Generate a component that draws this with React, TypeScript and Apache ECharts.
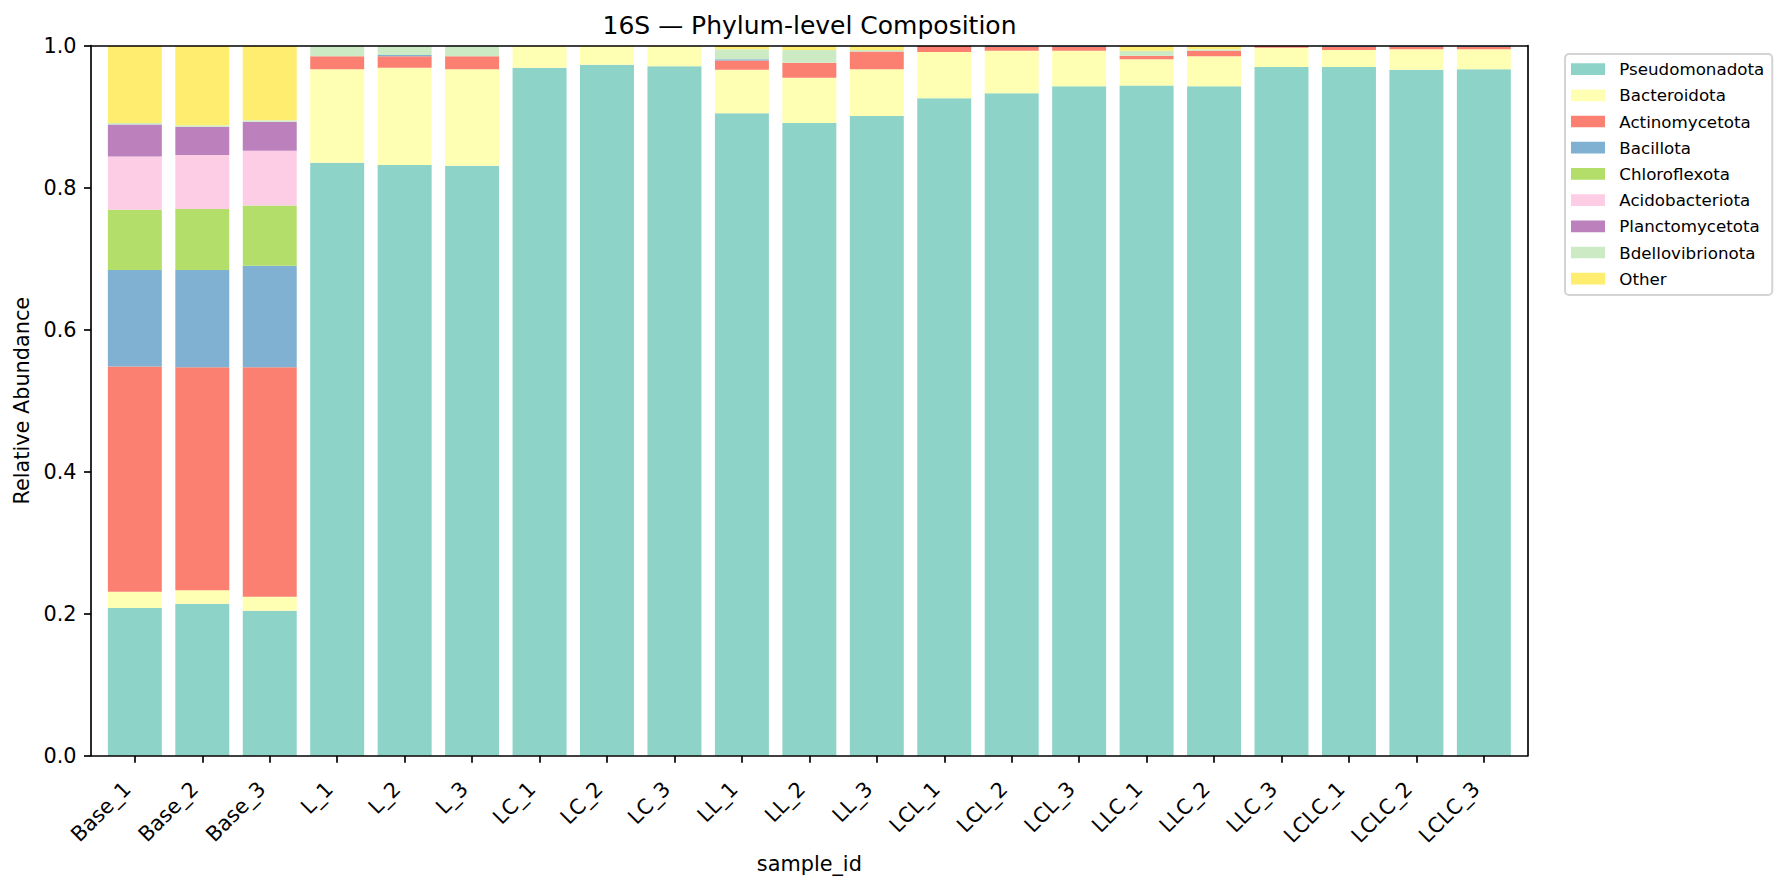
import React, { useEffect, useRef } from "react";
import * as echarts from "echarts";

const categories = [
  "Base_1", "Base_2", "Base_3", "L_1", "L_2", "L_3", "LC_1", "LC_2", "LC_3",
  "LL_1", "LL_2", "LL_3", "LCL_1", "LCL_2", "LCL_3", "LLC_1", "LLC_2", "LLC_3",
  "LCLC_1", "LCLC_2", "LCLC_3",
];

const phyla = [
  "Pseudomonadota", "Bacteroidota", "Actinomycetota", "Bacillota", "Chloroflexota",
  "Acidobacteriota", "Planctomycetota", "Bdellovibrionota", "Other",
];

const colors = [
  "#8dd3c7", "#ffffb3", "#fb8072", "#80b1d3", "#b3de69",
  "#fccde5", "#bc80bd", "#ccebc5", "#ffed6f",
];

const pseudomonadota = [0.208, 0.214, 0.204, 0.835, 0.832, 0.831, 0.969, 0.973, 0.971, 0.905, 0.891, 0.901, 0.926, 0.933, 0.943, 0.944, 0.943, 0.970, 0.970, 0.966, 0.967];
const bacteroidota = [0.023, 0.019, 0.020, 0.132, 0.137, 0.136, 0.031, 0.027, 0.029, 0.061, 0.064, 0.066, 0.065, 0.060, 0.050, 0.037, 0.042, 0.027, 0.024, 0.029, 0.028];
const actinomycetota = [0.317, 0.314, 0.323, 0.018, 0.016, 0.018, 0, 0, 0, 0.013, 0.021, 0.025, 0.009, 0.005, 0.005, 0.005, 0.008, 0.003, 0.004, 0.003, 0.003];
const bacillota = [0.136, 0.137, 0.143, 0, 0.002, 0, 0, 0, 0, 0.002, 0, 0, 0, 0.002, 0.002, 0, 0, 0, 0.002, 0.002, 0.002];
const chloroflexota = [0.085, 0.086, 0.085, 0, 0, 0, 0, 0, 0, 0, 0, 0, 0, 0, 0, 0, 0, 0, 0, 0, 0];
const acidobacteriota = [0.075, 0.076, 0.077, 0, 0, 0, 0, 0, 0, 0, 0, 0, 0, 0, 0, 0, 0, 0, 0, 0, 0];
const planctomycetota = [0.045, 0.040, 0.041, 0, 0, 0, 0, 0, 0, 0, 0, 0, 0, 0, 0, 0, 0, 0, 0, 0, 0];
const bdellovibrionota = [0.002, 0.002, 0.002, 0.015, 0.013, 0.015, 0, 0, 0, 0.014, 0.018, 0.002, 0, 0, 0, 0.007, 0.002, 0, 0, 0, 0];
const other = [0.109, 0.112, 0.105, 0, 0, 0, 0, 0, 0, 0.005, 0.006, 0.006, 0, 0, 0, 0.007, 0.005, 0, 0, 0, 0];

const yTicks = [0, 0.2, 0.4, 0.6, 0.8, 1.0];

const FONT = "DejaVu Sans";

export default function App() {
  const ref = useRef<HTMLDivElement>(null);

  useEffect(() => {
    const chart = echarts.init(ref.current!, null, { renderer: "svg" });
    const values = [
      pseudomonadota, bacteroidota, actinomycetota, bacillota, chloroflexota,
      acidobacteriota, planctomycetota, bdellovibrionota, other,
    ];
    const lineStyle = { color: "#000", width: 1.67 };

    // frame spans x from -0.65 to 20.65 bar units; bar bands occupy -0.5..20.5
    const frameLeft = 91;
    const frameRight = 1527.7;
    const unit = (frameRight - frameLeft) / 21.3;
    const barLeft = frameLeft + 0.15 * unit;
    const barRightMargin = 1784 - (frameRight - 0.15 * unit);

    chart.setOption({
      animation: false,
      backgroundColor: "#ffffff",
      title: {
        text: "16S — Phylum-level Composition",
        left: 804.5,
        top: 7.5,
        textAlign: "center",
        textStyle: { fontFamily: FONT, fontSize: 25, fontWeight: "normal", color: "#000" },
      },
      legend: {
        orient: "vertical",
        left: 1565,
        top: 54,
        padding: [6.6, 8, 7.7, 6],
        itemWidth: 34,
        itemHeight: 11.7,
        itemGap: 9.2,
        icon: "rect",
        selectedMode: false,
        borderColor: "#d4d4d4",
        borderWidth: 2,
        borderRadius: 4,
        backgroundColor: "#ffffff",
        data: phyla,
        textStyle: {
          fontFamily: FONT,
          fontSize: 16.7,
          lineHeight: 16.7,
          color: "#000",
          padding: [0, 0, 0, 9.3],
        },
      },
      grid: [
        { left: barLeft, right: barRightMargin, top: 45.7, bottom: 126.3, containLabel: false },
        { left: frameLeft, right: 1784 - frameRight, top: 45.7, bottom: 126.3, containLabel: false },
      ],
      xAxis: [
        {
          type: "category",
          gridIndex: 0,
          data: categories,
          boundaryGap: true,
          axisLine: { show: false },
          axisTick: { show: true, alignWithLabel: true, length: 7, lineStyle },
          axisLabel: {
            show: true,
            interval: 0,
            rotate: 45,
            margin: 22,
            padding: [0, 11, 0, 0],
            fontFamily: FONT,
            fontSize: 20.8,
            color: "#000",
          },
          splitLine: { show: false },
          name: "sample_id",
          nameLocation: "middle",
          nameGap: 95,
          nameTextStyle: { fontFamily: FONT, fontSize: 20.8, color: "#000" },
        },
        {
          type: "value",
          gridIndex: 1,
          position: "bottom",
          min: 0,
          max: 1,
          z: 5,
          splitLine: { show: false },
          axisLine: { show: true, onZero: false, lineStyle },
          axisTick: { show: false },
          axisLabel: { show: false },
        },
        {
          type: "value",
          gridIndex: 1,
          position: "top",
          min: 0,
          max: 1,
          z: 5,
          splitLine: { show: false },
          axisLine: { show: true, onZero: false, lineStyle },
          axisTick: { show: false },
          axisLabel: { show: false },
        },
      ],
      yAxis: [
        {
          type: "value",
          gridIndex: 0,
          min: 0,
          max: 1,
          show: false,
          splitLine: { show: false },
        },
        {
          type: "value",
          gridIndex: 1,
          position: "left",
          min: 0,
          max: 1,
          interval: 0.2,
          z: 5,
          splitLine: { show: false },
          axisLine: { show: true, onZero: false, lineStyle },
          axisTick: { show: true, length: 7, lineStyle },
          axisLabel: {
            margin: 14.5,
            fontFamily: FONT,
            fontSize: 20.8,
            color: "#000",
            formatter: (v: number) => {
              const t = yTicks.find((x) => Math.abs(x - v) < 1e-9);
              return (t ?? v).toFixed(1);
            },
          },
          name: "Relative Abundance",
          nameLocation: "middle",
          nameGap: 54,
          nameTextStyle: { fontFamily: FONT, fontSize: 20.8, color: "#000" },
        },
        {
          type: "value",
          gridIndex: 1,
          position: "right",
          min: 0,
          max: 1,
          z: 5,
          splitLine: { show: false },
          axisLine: { show: true, onZero: false, lineStyle },
          axisTick: { show: false },
          axisLabel: { show: false },
        },
      ],
      series: phyla.map((name, k) => ({
        name,
        type: "bar",
        stack: "total",
        xAxisIndex: 0,
        yAxisIndex: 0,
        barWidth: 0.8 * unit,
        z: 2,
        itemStyle: { color: colors[k] },
        emphasis: { disabled: true },
        data: values[k],
      })),
    });

    return () => chart.dispose();
  }, []);

  return (
    <div
      ref={ref}
      style={{ position: "absolute", left: 0, top: 0, width: 1784, height: 882, background: "#fff" }}
    />
  );
}
